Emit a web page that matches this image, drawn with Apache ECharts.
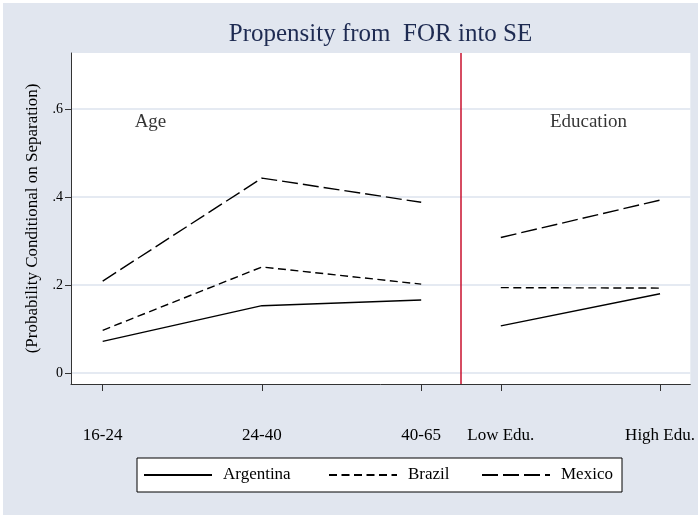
<!DOCTYPE html>
<html>
<head>
<meta charset="utf-8">
<title>Propensity from FOR into SE</title>
<script src="https://cdn.jsdelivr.net/npm/echarts@6/dist/echarts.min.js"></script>
<style>
  html, body { margin: 0; padding: 0; background: #ffffff; }
  #chart { position: absolute; left: 3px; top: 3px; width: 695px; height: 512px; }
</style>
</head>
<body>
<div id="chart"></div>
<script>
// Group positions on the x scale: three age groups, then two education groups
const xPositions = [1, 2, 3, 3.5, 4.5];
const groupLabels = ['16-24', '24-40', '40-65', 'Low Edu.', 'High Edu.'];

// Propensity by country (age groups followed by education groups)
const argentina = [0.072, 0.153, 0.166, 0.107, 0.180];
const brazil    = [0.097, 0.241, 0.202, 0.194, 0.193];
const mexico    = [0.209, 0.443, 0.388, 0.308, 0.393];

const countries = ['Argentina', 'Brazil', 'Mexico'];
const yTicks = [0, 0.2, 0.4, 0.6];

// Divider between the age panel and the education panel
const panelDivider = 3.25;
const panelNames = ['Age', 'Education'];
const panelNameX = [1.3, 4.05];
const panelNameY = [0.57, 0.57];

const serif = "'Liberation Serif', 'Times New Roman', Times, serif";

// Age points, a break at the divider, then education points
function withBreak(values) {
  const pts = [];
  values.forEach(function (v, i) {
    if (i === 3) pts.push([panelDivider, '-']);
    pts.push([xPositions[i], v]);
  });
  return pts;
}

const dashStyles = ['solid', [8, 4.5], [16, 5]];
const seriesValues = [argentina, brazil, mexico];

const lineSeries = countries.map(function (name, k) {
  return {
    name: name,
    type: 'line',
    data: withBreak(seriesValues[k]),
    symbol: 'none',
    connectNulls: false,
    silent: true,
    lineStyle: { color: '#000000', width: 1.4, type: dashStyles[k] },
    z: 3
  };
});

// Vertical divider line
lineSeries[0].markLine = {
  silent: true,
  symbol: ['none', 'none'],
  label: { show: false },
  lineStyle: { color: '#c8102e', width: 1.5, type: 'solid' },
  data: [{ xAxis: panelDivider }]
};

const panelLabelSeries = {
  name: 'panels',
  type: 'scatter',
  silent: true,
  symbolSize: 0,
  data: panelNames.map(function (n, i) {
    return { name: n, value: [panelNameX[i], panelNameY[i]] };
  }),
  label: {
    show: true,
    position: 'inside',
    formatter: function (p) { return p.name; },
    color: '#000000',
    fontFamily: serif,
    fontSize: 19
  },
  z: 4
};

const chart = echarts.init(document.getElementById('chart'), null, { renderer: 'canvas' });

chart.setOption({
  backgroundColor: '#e1e6ef',
  animation: false,
  title: {
    text: 'Propensity from  FOR into SE',
    left: 377.5,
    top: 19,
    padding: 0,
    textAlign: 'center',
    textStyle: {
      color: '#1e2b52',
      fontFamily: serif,
      fontSize: 25,
      fontWeight: 'normal'
    }
  },
  grid: {
    left: 68,
    top: 50,
    width: 620,
    height: 331,
    show: true,
    backgroundColor: '#ffffff',
    borderWidth: 0
  },
  legend: {
    data: countries.map(function (n, i) {
      return { name: n, textStyle: { width: [75, 43, 55][i] } };
    }),
    left: 134,
    top: 455,
    orient: 'horizontal',
    itemWidth: 68,
    itemHeight: 14,
    itemGap: 30,
    padding: [7, 6, 7, 6],
    backgroundColor: '#ffffff',
    borderColor: '#000000',
    borderWidth: 1,
    borderRadius: 0,
    selectedMode: false,
    // line-only keys: hide the marker that sits on the key line
    itemStyle: { color: 'transparent', borderColor: 'transparent', borderWidth: 0, opacity: 0 },
    textStyle: {
      color: '#000000',
      fontFamily: serif,
      fontSize: 17,
      lineHeight: 20,
      padding: [0, 0, 0, 6]
    }
  },
  xAxis: {
    type: 'value',
    min: 0.801,
    max: 4.69,
    axisLine: { show: true, onZero: false, lineStyle: { color: '#333333', width: 1 } },
    axisTick: {
      show: true,
      length: 7,
      customValues: xPositions,
      lineStyle: { color: '#333333', width: 1 }
    },
    axisLabel: {
      show: true,
      customValues: xPositions,
      margin: 43,
      color: '#000000',
      fontFamily: serif,
      fontSize: 17,
      formatter: function (v) {
        const i = xPositions.findIndex(function (p) { return Math.abs(p - v) < 1e-6; });
        return i >= 0 ? groupLabels[i] : '';
      }
    },
    splitLine: { show: false }
  },
  yAxis: {
    type: 'value',
    min: -0.025,
    max: 0.7273,
    name: '(Probability Conditional on Separation)',
    nameLocation: 'middle',
    nameRotate: 90,
    nameGap: 30,
    nameTextStyle: { color: '#000000', fontFamily: serif, fontSize: 17 },
    axisLine: { show: true, onZero: false, lineStyle: { color: '#333333', width: 1 } },
    axisTick: {
      show: true,
      length: 6,
      customValues: yTicks,
      lineStyle: { color: '#333333', width: 1 }
    },
    axisLabel: {
      show: true,
      customValues: yTicks,
      margin: 8,
      color: '#000000',
      fontFamily: serif,
      fontSize: 14,
      formatter: function (v) {
        return v === 0 ? '0' : String(Math.round(v * 10) / 10).replace(/^0\./, '.');
      }
    },
    splitLine: { show: true, lineStyle: { color: '#dde3ee', width: 1.5 } }
  },
  series: lineSeries.concat([panelLabelSeries])
});
</script>
</body>
</html>
